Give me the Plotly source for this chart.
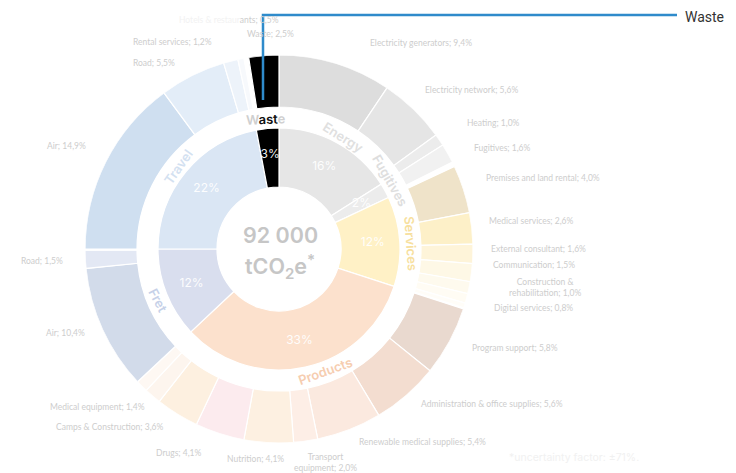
import plotly.graph_objects as go

# ---- data -------------------------------------------------------------
groups = ["Energy", "Fugitives", "Services", "Products", "Fret", "Travel", "Waste"]
group_share = [16, 2, 12, 33, 12, 22, 3]

sub_group = (["Energy"] * 3 + ["Fugitives"] + ["Services"] * 7 + ["Products"] * 9
             + ["Fret"] * 3 + ["Travel"] * 4 + ["Waste"])
sub_names = ["Electricity generators", "Electricity network", "Heating",
             "Fugitives",
             "Premises and land rental", "Medical services", "External consultant",
             "Communication", "Construction & rehabilitation", "Digital services", "",
             "Program support", "Administration & office supplies",
             "Renewable medical supplies", "Transport equipment", "Nutrition", "Drugs",
             "Camps & Construction", "Medical equipment", "",
             "Air", "Road", "",
             "Air", "Road", "Rental services", "Hotels & restaurants",
             "Waste"]
sub_share = [9.4, 5.6, 1.0,
             1.6,
             4.0, 2.6, 1.6, 1.5, 1.0, 0.8, 0.4,
             5.8, 5.6, 5.4, 2.0, 4.1, 4.1, 3.6, 1.4, 1.0,
             10.4, 1.5, 0.1,
             14.9, 5.5, 1.2, 0.5,
             2.5]

total_label = "92 000"
unit_label = "tCO<sub>2</sub>e<sup>*</sup>"
footnote = "*uncertainty factor: ±71%."
highlight = "Waste"

# ---- styles ---------------------------------------------------------------
W, H = 736, 473
CX, CY, R_MAX = 279, 249, 194          # centre and outer radius, px
INNER = (62, 121)                      # inner ring radii
OUTER = (142, 194)                     # outer ring radii

group_colors = ["#e6e6e6", "#ececec", "#fff1c6", "#fce1cd", "#d9deee", "#dae6f4", "#000000"]
group_label_colors = ["#e0e0e0", "#dedede", "#f7e09e", "#f6cdb0", "#c6d1e8", "#d3e1f1", "#cfcfcf"]
group_label_pos = [(343, 137, 32), (390, 180, 60), (411, 243, 86), (325, 371, -20),
                   (158, 300, 62), (178, 167, -55), (266, 119, -2)]

sub_colors = ["#dddddd", "#e5e5e5", "#ececec",
              "#f1f1f1",
              "#efe3c9", "#fdf0c8", "#fef4d9", "#fef8e6", "#fefaee", "#fffcf4", "#fffdf8",
              "#e9d9cf", "#f3ddd0", "#fbe9df", "#fdeee6", "#fdf0e1", "#fcebee",
              "#fdf0e0", "#fdf5ee", "#fef8f3",
              "#d2dbea", "#e3e8f4", "#f1f3f9",
              "#cfdff0", "#e3edf8", "#edf3fa", "#f7f9fc",
              "#000000"]

label_pos = {
    ("Energy", "Electricity generators"): (421, 43),
    ("Energy", "Electricity network"): (471, 90),
    ("Energy", "Heating"): (493, 123),
    ("Fugitives", "Fugitives"): (502, 148),
    ("Services", "Premises and land rental"): (543, 178),
    ("Services", "Medical services"): (531, 221),
    ("Services", "External consultant"): (538, 249),
    ("Services", "Communication"): (534, 265),
    ("Services", "Construction & rehabilitation"): (545, 287),
    ("Services", "Digital services"): (533, 308),
    ("Products", "Program support"): (515, 348),
    ("Products", "Administration & office supplies"): (492, 404),
    ("Products", "Renewable medical supplies"): (422, 442),
    ("Products", "Transport equipment"): (325, 462),
    ("Products", "Nutrition"): (255, 459),
    ("Products", "Drugs"): (178, 453),
    ("Products", "Camps & Construction"): (110, 427),
    ("Products", "Medical equipment"): (97, 407),
    ("Fret", "Air"): (65, 333),
    ("Fret", "Road"): (42, 261),
    ("Travel", "Air"): (66, 146),
    ("Travel", "Road"): (154, 63),
    ("Travel", "Rental services"): (172, 42),
    ("Travel", "Hotels & restaurants"): (229, 20),
    ("Waste", "Waste"): (270, 34),
}
line_breaks = {"Construction & rehabilitation": "Construction &<br>rehabilitation",
               "Transport equipment": "Transport<br>equipment"}

LABEL_FONT = "Lato, 'Liberation Sans', sans-serif"
MAIN_FONT = "Inter, 'Noto Sans', sans-serif"


def px(x, y):
    return x / W, 1 - y / H


def note(x, y, text, font, angle=0, xanchor="center"):
    fx, fy = px(x, y)
    return dict(x=fx, y=fy, xref="paper", yref="paper", text=text,
                showarrow=False, xanchor=xanchor, yanchor="middle",
                textangle=angle, font=font, align="center")


# ---- geometry from shares (degrees, clockwise from 12 o'clock) ---------------
group_start = {}
acc = 0.0
for g, s in zip(groups, group_share):
    group_start[g] = acc
    acc += s

inner_theta = [(group_start[g] + s / 2) * 3.6 for g, s in zip(groups, group_share)]
inner_width = [s * 3.6 for s in group_share]

# sub-categories are laid out from the start of their group; the last group
# closes the circle at 12 o'clock
outer_mid = [0.0] * len(sub_share)
for gi, g in enumerate(groups):
    kids = [i for i, sg in enumerate(sub_group) if sg == g]
    pos = group_start[g]
    if gi == len(groups) - 1:
        pos = group_start[g] + group_share[gi] - sum(sub_share[i] for i in kids)
    for i in kids:
        outer_mid[i] = (pos + sub_share[i] / 2) * 3.6
        pos += sub_share[i]
outer_width = [s * 3.6 for s in sub_share]

fig = go.Figure()

fig.add_trace(go.Barpolar(
    theta=inner_theta, width=inner_width,
    r=[INNER[1] - INNER[0]] * len(groups), base=[INNER[0]] * len(groups),
    marker=dict(color=group_colors, line=dict(color="white", width=1.2)),
    hovertext=groups, hoverinfo="text", showlegend=False,
))

fig.add_trace(go.Barpolar(
    theta=outer_mid, width=outer_width,
    r=[OUTER[1] - OUTER[0]] * len(sub_share), base=[OUTER[0]] * len(sub_share),
    marker=dict(color=sub_colors, line=dict(color="white", width=1.2)),
    hovertext=[n or g for n, g in zip(sub_names, sub_group)], hoverinfo="text",
    showlegend=False,
))

# share of each group printed inside the inner ring
fig.add_trace(go.Scatterpolar(
    theta=inner_theta, r=[94] * len(groups), mode="text",
    text=[f"{s}%" for s in group_share],
    textfont=dict(family=MAIN_FONT, size=12, color="rgba(255,255,255,0.95)"),
    hoverinfo="skip", showlegend=False,
))

fig.update_layout(
    width=W, height=H, margin=dict(l=0, r=0, t=0, b=0),
    paper_bgcolor="white", plot_bgcolor="white",
    polar=dict(
        domain=dict(x=[(CX - R_MAX) / W, (CX + R_MAX) / W],
                    y=[(H - CY - R_MAX) / H, (H - CY + R_MAX) / H]),
        bgcolor="rgba(0,0,0,0)",
        radialaxis=dict(range=[0, R_MAX], visible=False),
        angularaxis=dict(rotation=90, direction="clockwise", visible=False),
        bargap=0,
    ),
)

annotations = []
label_font = dict(family=LABEL_FONT, size=8.5, color="#cdcdcd")

# sub-category labels
for name, g, s in zip(sub_names, sub_group, sub_share):
    if not name:
        continue
    x, y = label_pos[(g, name)]
    shown = line_breaks.get(name, name)
    text = f"{shown}; {s:.1f}%".replace(".", ",")
    if name == "Hotels & restaurants":
        text = ("<span style='color:#f2f2f2'>Hotels & restaur</span>"
                + f"ants; {s:.1f}%".replace(".", ","))
    annotations.append(note(x, y, text, label_font))

# group names on the white ring
for g, col, (x, y, ang) in zip(groups, group_label_colors, group_label_pos):
    text = g
    if g == highlight:
        text = ("<span style='color:#cfcfcf'>W</span><span style='color:#111111'>ast</span>"
                "<span style='color:#cfcfcf'>e</span>")
    annotations.append(note(x, y, text,
                            dict(family=MAIN_FONT, size=13, color=col, weight=600), ang))

# centre total
centre_font = dict(family=MAIN_FONT, size=21.5, color="#c6c6c6", weight=600)
annotations.append(note(CX + 1, 235, total_label, centre_font))
annotations.append(note(CX + 1, 266, unit_label, centre_font))

# footnote
annotations.append(note(574, 457, footnote,
                        dict(family=MAIN_FONT, size=10.5, color="#f1f1f1")))

# call-out for the highlighted category
annotations.append(note(683, 17, highlight,
                        dict(family="Roboto, sans-serif", size=14, color="#333333"),
                        xanchor="left"))

fig.update_layout(
    annotations=annotations,
    shapes=[dict(type="path", xref="paper", yref="paper",
                 path=f"M {px(263, 100)[0]} {px(263, 100)[1]} L {px(263, 15)[0]} {px(263, 15)[1]} "
                      f"L {px(677, 15)[0]} {px(677, 15)[1]}",
                 line=dict(color="#2f8bcb", width=2.5))],
)

fig.write_html("out.html")
